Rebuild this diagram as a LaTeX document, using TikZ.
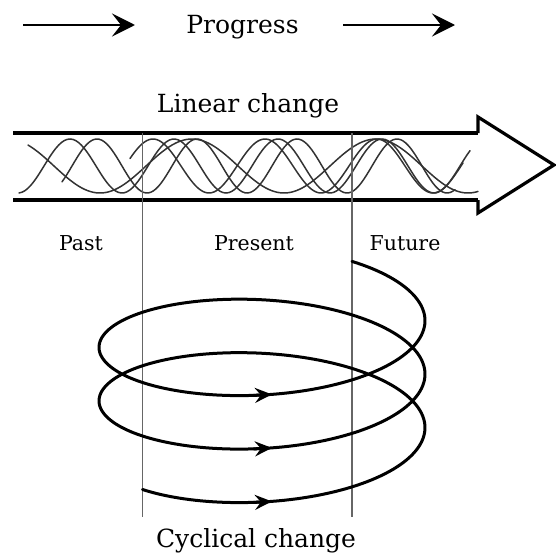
\documentclass[tikz,border=0pt]{standalone}
\usepackage{fontspec}
\setmainfont{DejaVu Serif}
\usetikzlibrary{arrows.meta}
\begin{document}
\begin{tikzpicture}[x=1pt,y=-1pt,
  lbl/.style={font=\fontsize{25}{30}\selectfont, inner sep=0pt, anchor=base},
  era/.style={font=\fontsize{20.5}{24}\selectfont, inner sep=0pt, anchor=base},
  wave/.style={line width=1.5pt, draw=black!80, line cap=round},
  divider/.style={line width=1.5pt, draw=black!60},
  coil/.style={line width=3pt, line cap=round, line join=round},
  coiltip/.style={line width=3pt, -{Stealth[length=17pt,width=15pt,inset=6pt]}},
  progtip/.style={line width=2.8pt, -{Stealth[length=23pt,width=23pt,inset=9pt]}},
  shaft/.style={line width=4.5pt},
  head/.style={line width=3.2pt, line join=miter}]
\useasboundingbox (0,0) rectangle (556,554);

% top progress arrows and label
\node[lbl] (progress) at (242.5,33) {Progress};
\coordinate (p1s) at (23,25);
\coordinate (p1e) at (135,25);
\coordinate (p2s) at (343,25);
\coordinate (p2e) at (455,25);
\draw[progtip] (p1s) -- (p1e);
\draw[progtip] (p2s) -- (p2e);

% linear change
\node[lbl] (linear) at (248,112) {Linear change};

% waves inside the shaft
\draw[wave] plot[domain=19:470, samples=160, variable=\x] (\x, {166-27*cos(3.4615*(\x-70))});
\draw[wave] plot[domain=28:478, samples=160, variable=\x] (\x, {166-27*cos(1.9565*(\x-8))});
\draw[wave] plot[domain=62:455, samples=160, variable=\x] (\x, {166-27*cos(3.6*(\x-97))});
\draw[wave] plot[domain=130:463, samples=160, variable=\x] (\x, {166-27*cos(3.2143*(\x-153))});

% big arrow
\coordinate (st) at (13,133);
\coordinate (sb) at (13,200);
\coordinate (hj1) at (478,133);
\coordinate (ht) at (478,117);
\coordinate (tip) at (554,165);
\coordinate (hb) at (478,213);
\coordinate (hj2) at (478,200);
\draw[shaft] (st) -- (hj1);
\draw[shaft] (sb) -- (hj2);
\draw[head] (hj1) -- (ht) -- (tip) -- (hb) -- (hj2);

% dividers
\coordinate (d1t) at (142.5,133);
\coordinate (d1b) at (142.5,517);
\coordinate (d2t) at (352,133);
\coordinate (d2b) at (352,517);
\draw[divider] (d1t) -- (d1b);
\draw[divider] (d2t) -- (d2b);

% era labels
\node[era] (past) at (81,250) {Past};
\node[era] (present) at (254,250) {Present};
\node[era] (future) at (405,250) {Future};

% spiral
\draw[coil] plot[domain=-137.15:776.49, samples=400, variable=\t]
  ({262+163*cos(\t)}, {441-0.148611*(\t+90)-61*sin(\t)});
\coordinate (a1s) at (253.5,502.4);
\coordinate (a1e) at (271.9,501.4);
\coordinate (a2s) at (253.5,448.9);
\coordinate (a2e) at (271.9,447.9);
\coordinate (a3s) at (253.5,395.4);
\coordinate (a3e) at (271.9,394.4);
\draw[coiltip] (a1s) -- (a1e);
\draw[coiltip] (a2s) -- (a2e);
\draw[coiltip] (a3s) -- (a3e);

\node[lbl] (cyclic) at (256,547) {Cyclical change};
\end{tikzpicture}
\end{document}
